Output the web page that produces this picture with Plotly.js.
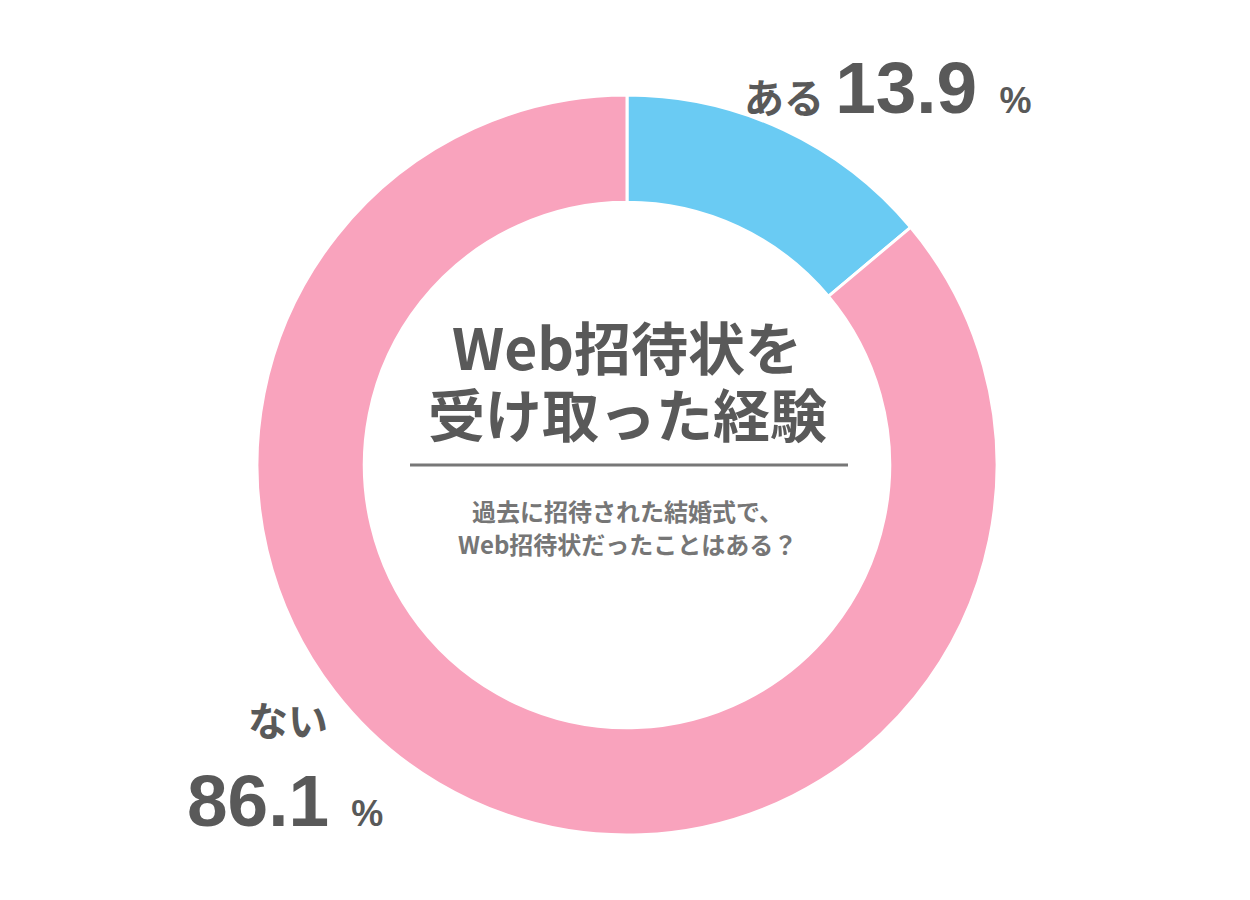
<!DOCTYPE html>
<html>
<head>
<meta charset="utf-8">
<script src="https://cdn.plot.ly/plotly-3.0.1.min.js"></script>
<style>
  html, body { margin: 0; padding: 0; background: #fff; }
  #chart { width: 1250px; height: 900px; }
</style>
</head>
<body>
<div id="chart"></div>
<script>
// data
const labels = ['ある', 'ない'];
const values = [13.9, 86.1];
const sliceColors = ['#6acbf3', '#f9a3bd'];
const titleLines = ['Web招待状を', '受け取った経験'];
const questionLines = ['過去に招待された結婚式で、', 'Web招待状だったことはある？'];

const W = 1250, H = 900;
const TEXT = '#595959';
const FONT = "'Liberation Sans', 'Noto Sans CJK JP', sans-serif";
const JP = "'Noto Sans CJK JP', sans-serif";

// px helpers -> paper coords
const px = x => x / W;
const py = y => 1 - y / H;

const cx = 627, cy = 465, R = 370;

const traces = [{
  type: 'pie',
  labels: labels,
  values: values,
  sort: false,
  direction: 'clockwise',
  rotation: 0,
  hole: 0.71,
  marker: { colors: sliceColors, line: { color: '#ffffff', width: 3 } },
  textinfo: 'none',
  hoverinfo: 'label+percent',
  showlegend: false,
  domain: { x: [px(cx - R), px(cx + R)], y: [py(cy + R), py(cy - R)] },
}];

const pct = '<span style="font-size:36px">%</span>';
const num = v => `<span style="font-size:73px">${v.toFixed(1)}</span>`;

const annotations = [
  {
    x: px(742), y: py(88), xanchor: 'left', yanchor: 'middle',
    text: `${labels[0]} ${num(values[0])}  ${pct}`,
  },
  {
    x: px(288), y: py(722), xanchor: 'center', yanchor: 'middle',
    text: labels[1],
  },
  {
    x: px(185), y: py(800), xanchor: 'left', yanchor: 'middle',
    text: `${num(values[1])}  ${pct}`,
  },
].map(a => ({ ...a, xref: 'paper', yref: 'paper', showarrow: false,
  font: { family: FONT, size: 40, color: TEXT, weight: 'bold' } }));

titleLines.forEach((t, i) => annotations.push({
  x: px(cx), y: py(345 + i * 67), xref: 'paper', yref: 'paper',
  xanchor: 'center', yanchor: 'middle', showarrow: false, text: t,
  font: { family: JP, size: 57, color: TEXT, weight: 'bold' },
}));

questionLines.forEach((t, i) => annotations.push({
  x: px(cx), y: py(510 + i * 33), xref: 'paper', yref: 'paper',
  xanchor: 'center', yanchor: 'middle', showarrow: false, text: t,
  font: { family: JP, size: 24, color: '#767676', weight: 'bold' },
}));

const layout = {
  width: W, height: H,
  margin: { t: 0, r: 0, b: 0, l: 0 },
  paper_bgcolor: '#ffffff',
  plot_bgcolor: '#ffffff',
  annotations: annotations,
  shapes: [{
    type: 'line', xref: 'paper', yref: 'paper',
    x0: px(410), x1: px(848), y0: py(465), y1: py(465),
    line: { color: '#777777', width: 3 },
  }],
};

Plotly.newPlot('chart', traces, layout, { displayModeBar: false, staticPlot: true });
</script>
</body>
</html>
